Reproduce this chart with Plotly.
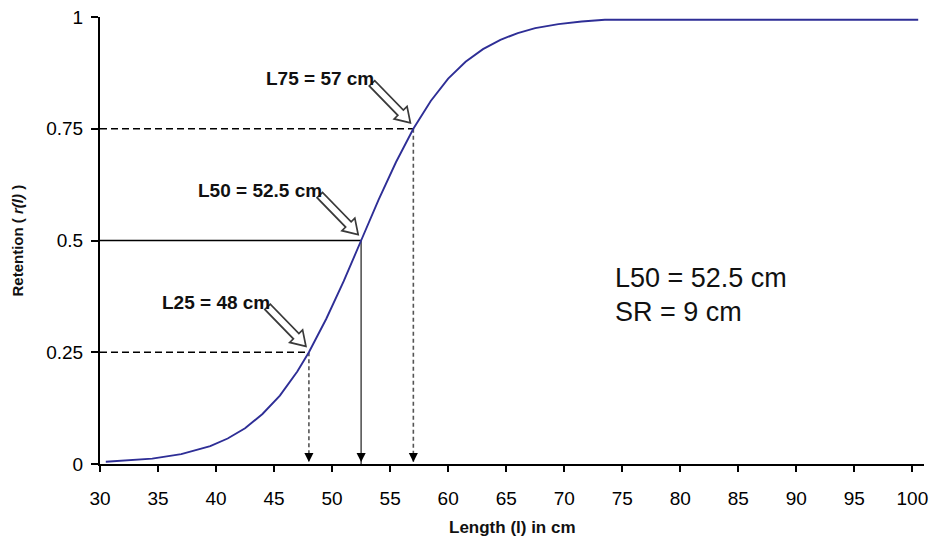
import math
import plotly.graph_objects as go

# ---- data ----
length = [30.5, 34.5, 37, 39.5, 41, 42.5, 44, 45.5, 47, 48, 49.5, 51, 52.5, 54,
          55.5, 57, 58.5, 60, 61.5, 63, 64.5, 66, 67.5, 69.5, 71.5, 73.5, 100.5]
retention = [0.005, 0.012, 0.022, 0.040, 0.057, 0.080, 0.112, 0.153, 0.207, 0.25,
             0.325, 0.409, 0.5, 0.591, 0.675, 0.75, 0.812, 0.862, 0.900, 0.928,
             0.949, 0.964, 0.975, 0.984, 0.990, 0.994, 0.994]

points = ["L25", "L50", "L75"]
point_len = [48, 52.5, 57]
point_ret = [0.25, 0.5, 0.75]
point_labels = ["L25 = 48 cm", "L50 = 52.5 cm", "L75 = 57 cm"]
stats_lines = ["L50 = 52.5 cm", "SR = 9 cm"]

x_ticks = list(range(30, 101, 5))
y_ticks = [0, 0.25, 0.5, 0.75, 1]
y_tick_text = ["0", "0.25", "0.5", "0.75", "1"]

FONT = "Liberation Sans, Arial, sans-serif"
x_min = 30


def block_arrow_path(tip=(-3, 6), vec=(37, -38), length_px=55, shaft_hw=3.8,
                     head_hw=9, head_len=14):
    """Pixel path (y up) of an outlined block arrow ending at `tip`."""
    n = math.hypot(*vec)
    dx, dy = vec[0] / n, vec[1] / n
    px, py = -dy, dx
    tx, ty = tip
    bx, by = tx - head_len * dx, ty - head_len * dy
    sx, sy = tx - length_px * dx, ty - length_px * dy
    pts = [
        (tx, ty),
        (bx + head_hw * px, by + head_hw * py),
        (bx + shaft_hw * px, by + shaft_hw * py),
        (sx + shaft_hw * px, sy + shaft_hw * py),
        (sx - shaft_hw * px, sy - shaft_hw * py),
        (bx - shaft_hw * px, by - shaft_hw * py),
        (bx - head_hw * px, by - head_hw * py),
    ]
    return "M" + " L".join("%.1f,%.1f" % p for p in pts) + " Z"


fig = go.Figure()

# horizontal & vertical guide lines
for name, xl, yl in zip(points, point_len, point_ret):
    solid = name == "L50"
    fig.add_trace(go.Scatter(
        x=[x_min, xl], y=[yl, yl], mode="lines",
        line=dict(color="black", width=1.6, dash="solid" if solid else "7px,4px"),
        hoverinfo="skip", showlegend=False))
    fig.add_trace(go.Scatter(
        x=[xl, xl], y=[yl, 0], mode="lines",
        line=dict(color="#555555", width=1.6, dash="solid" if solid else "4px,3px"),
        hoverinfo="skip", showlegend=False))

# the selection curve
fig.add_trace(go.Scatter(
    x=length, y=retention, mode="lines",
    line=dict(color="#2e2e96", width=1.9), showlegend=False))

annotations = []
shapes = []
for name, xl, yl, lab in zip(points, point_len, point_ret, point_labels):
    # small arrowheads at bottom of vertical lines
    annotations.append(dict(
        x=xl, y=0, xref="x", yref="y", ax=0, ay=-12, showarrow=True,
        arrowhead=2, arrowsize=1.3, arrowwidth=1.4, arrowcolor="black",
        standoff=2, text=""))
    # hollow block arrow pointing to the point
    shapes.append(dict(
        type="path", xref="x", yref="y", xsizemode="pixel", ysizemode="pixel",
        xanchor=xl, yanchor=yl, path=block_arrow_path(),
        fillcolor="white", line=dict(color="#3a3a3a", width=1.7), layer="above"))
    # label
    annotations.append(dict(
        x=xl, y=yl, xref="x", yref="y", xanchor="right", yanchor="middle",
        xshift=-37, yshift=50, showarrow=False, text="<b>%s</b>" % lab,
        font=dict(family=FONT, size=19, color="#111111")))

# stats text
annotations.append(dict(
    x=74.2, y=0.416, xref="x", yref="y", xanchor="left", yanchor="middle",
    showarrow=False, text=stats_lines[0],
    font=dict(family=FONT, size=27, color="#111111")))
annotations.append(dict(
    x=74.2, y=0.340, xref="x", yref="y", xanchor="left", yanchor="middle",
    showarrow=False, text=stats_lines[1],
    font=dict(family=FONT, size=27, color="#111111")))

# axis titles
annotations.append(dict(
    x=0.5, y=0, xref="paper", yref="paper", xanchor="center", yanchor="middle",
    yshift=-63, showarrow=False, text="<b>Length (l) in cm</b>",
    font=dict(family=FONT, size=17, color="#111111")))
annotations.append(dict(
    x=0, y=0.5, xref="paper", yref="paper", xanchor="center", yanchor="middle",
    xshift=-83, textangle=-90, showarrow=False,
    text="<b>Retention ( <i>r(l)</i> )</b>",
    font=dict(family=FONT, size=15, color="#111111")))

fig.update_layout(
    width=939, height=540,
    margin=dict(l=100, r=15, t=17, b=76, autoexpand=False),
    paper_bgcolor="white", plot_bgcolor="white",
    font=dict(family=FONT, color="black"),
    annotations=annotations, shapes=shapes,
    showlegend=False,
)
fig.update_xaxes(
    range=[30, 101], tickvals=x_ticks, ticktext=[str(v) for v in x_ticks],
    showline=True, linecolor="black", linewidth=2,
    ticks="outside", ticklen=6, tickwidth=2, tickcolor="black",
    ticklabelstandoff=10, showgrid=False, zeroline=False, automargin=False,
    tickfont=dict(family=FONT, size=19, color="black"))
fig.update_yaxes(
    range=[0, 1], tickvals=y_ticks, ticktext=y_tick_text,
    showline=True, linecolor="black", linewidth=2,
    ticks="outside", ticklen=7, tickwidth=2, tickcolor="black",
    ticklabelstandoff=4, showgrid=False, zeroline=False, automargin=False,
    tickfont=dict(family=FONT, size=19, color="black"))

fig.write_html("out.html")
